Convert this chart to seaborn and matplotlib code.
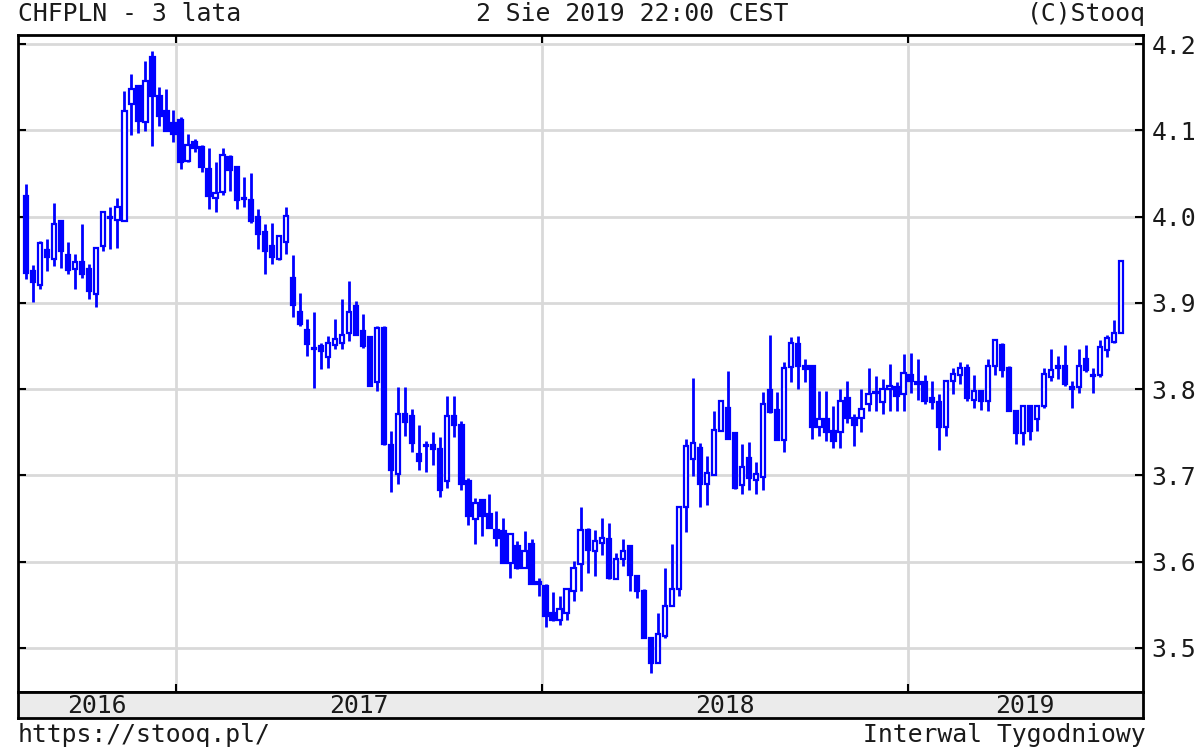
# Importações
import numpy as np
import pandas as pd
import matplotlib
matplotlib.use('Agg')
import matplotlib.pyplot as plt
import seaborn as sns

# Dados semanais CHFPLN, ago/2016 - ago/2019
abertura = [4.024, 3.937, 3.921, 3.961, 3.951, 3.995, 3.955, 3.939, 3.947, 3.939,
            3.910, 3.966, 3.999, 3.996, 3.995, 4.130, 4.151, 4.110, 4.185, 4.140,
            4.122, 4.108, 4.112, 4.065, 4.086, 4.081, 4.055, 4.021, 4.028, 4.069,
            4.057, 4.022, 4.019, 3.999, 3.982, 3.966, 3.951, 3.970, 3.929, 3.889,
            3.869, 3.848, 3.850, 3.837, 3.851, 3.854, 3.865, 3.896, 3.867, 3.860,
            3.808, 3.871, 3.735, 3.702, 3.771, 3.769, 3.725, 3.735, 3.735, 3.731,
            3.694, 3.769, 3.758, 3.693, 3.650, 3.671, 3.655, 3.637, 3.636, 3.599,
            3.618, 3.593, 3.620, 3.576, 3.572, 3.541, 3.533, 3.541, 3.566, 3.597,
            3.637, 3.612, 3.622, 3.626, 3.580, 3.603, 3.618, 3.583, 3.566, 3.512,
            3.483, 3.514, 3.549, 3.568, 3.664, 3.719, 3.732, 3.690, 3.701, 3.751,
            3.778, 3.749, 3.689, 3.720, 3.695, 3.698, 3.799, 3.776, 3.741, 3.826,
            3.852, 3.827, 3.827, 3.756, 3.765, 3.752, 3.750, 3.790, 3.767, 3.767,
            3.783, 3.797, 3.785, 3.800, 3.802, 3.794, 3.817, 3.808, 3.808, 3.790,
            3.785, 3.756, 3.810, 3.816, 3.824, 3.788, 3.798, 3.786, 3.827, 3.851,
            3.825, 3.775, 3.749, 3.780, 3.765, 3.780, 3.814, 3.824, 3.827, 3.802,
            3.802, 3.835, 3.816, 3.816, 3.845, 3.855, 3.865]
maxima = [4.038, 3.944, 3.972, 3.974, 4.016, 3.996, 3.970, 3.957, 3.992, 3.945,
          3.964, 4.007, 4.011, 4.022, 4.146, 4.165, 4.153, 4.180, 4.192, 4.150,
          4.148, 4.124, 4.115, 4.096, 4.090, 4.083, 4.079, 4.063, 4.079, 4.071,
          4.059, 4.046, 4.050, 4.009, 3.991, 3.993, 3.979, 4.011, 3.955, 3.912,
          3.881, 3.890, 3.854, 3.862, 3.881, 3.904, 3.925, 3.902, 3.887, 3.860,
          3.873, 3.873, 3.752, 3.802, 3.802, 3.777, 3.758, 3.740, 3.750, 3.744,
          3.792, 3.792, 3.763, 3.697, 3.674, 3.671, 3.678, 3.659, 3.651, 3.632,
          3.624, 3.636, 3.626, 3.581, 3.574, 3.565, 3.560, 3.570, 3.601, 3.664,
          3.639, 3.637, 3.651, 3.645, 3.610, 3.626, 3.618, 3.585, 3.568, 3.512,
          3.541, 3.593, 3.620, 3.664, 3.742, 3.813, 3.738, 3.722, 3.775, 3.788,
          3.821, 3.749, 3.737, 3.739, 3.716, 3.797, 3.863, 3.797, 3.832, 3.861,
          3.862, 3.835, 3.827, 3.798, 3.798, 3.781, 3.800, 3.810, 3.771, 3.800,
          3.825, 3.815, 3.812, 3.829, 3.808, 3.841, 3.842, 3.835, 3.817, 3.810,
          3.794, 3.810, 3.824, 3.831, 3.829, 3.816, 3.798, 3.835, 3.857, 3.853,
          3.827, 3.775, 3.780, 3.780, 3.780, 3.825, 3.847, 3.839, 3.851, 3.810,
          3.847, 3.851, 3.825, 3.857, 3.863, 3.880, 3.950]
minima = [3.928, 3.901, 3.916, 3.937, 3.943, 3.941, 3.933, 3.916, 3.929, 3.904,
          3.895, 3.960, 3.962, 3.964, 3.995, 4.095, 4.097, 4.099, 4.082, 4.105,
          4.099, 4.086, 4.055, 4.063, 4.075, 4.052, 4.009, 4.005, 4.025, 4.030,
          4.009, 4.011, 3.993, 3.962, 3.933, 3.945, 3.950, 3.957, 3.884, 3.873,
          3.838, 3.801, 3.823, 3.825, 3.846, 3.846, 3.856, 3.863, 3.848, 3.804,
          3.798, 3.735, 3.681, 3.690, 3.746, 3.727, 3.706, 3.704, 3.712, 3.675,
          3.685, 3.744, 3.683, 3.643, 3.620, 3.630, 3.639, 3.618, 3.599, 3.581,
          3.591, 3.593, 3.574, 3.560, 3.524, 3.531, 3.527, 3.533, 3.554, 3.566,
          3.587, 3.583, 3.608, 3.580, 3.580, 3.595, 3.566, 3.558, 3.512, 3.471,
          3.483, 3.512, 3.549, 3.560, 3.634, 3.699, 3.664, 3.666, 3.701, 3.751,
          3.742, 3.684, 3.679, 3.683, 3.679, 3.683, 3.772, 3.741, 3.727, 3.808,
          3.800, 3.808, 3.742, 3.746, 3.740, 3.732, 3.732, 3.761, 3.734, 3.750,
          3.775, 3.775, 3.771, 3.775, 3.775, 3.775, 3.796, 3.788, 3.783, 3.777,
          3.729, 3.746, 3.794, 3.806, 3.786, 3.778, 3.776, 3.775, 3.816, 3.814,
          3.775, 3.737, 3.735, 3.741, 3.751, 3.778, 3.810, 3.812, 3.804, 3.778,
          3.796, 3.820, 3.796, 3.814, 3.837, 3.853, 3.865]
fechamento = [3.935, 3.924, 3.969, 3.953, 3.991, 3.960, 3.938, 3.947, 3.933, 3.914,
              3.964, 4.005, 3.998, 4.011, 4.122, 4.148, 4.111, 4.157, 4.140, 4.117,
              4.099, 4.096, 4.063, 4.083, 4.080, 4.057, 4.024, 4.027, 4.071, 4.054,
              4.019, 4.020, 3.995, 3.980, 3.960, 3.953, 3.978, 4.001, 3.898, 3.875,
              3.852, 3.846, 3.844, 3.854, 3.858, 3.863, 3.890, 3.863, 3.850, 3.804,
              3.871, 3.737, 3.706, 3.771, 3.762, 3.738, 3.717, 3.734, 3.731, 3.683,
              3.769, 3.758, 3.690, 3.653, 3.668, 3.653, 3.639, 3.628, 3.599, 3.632,
              3.593, 3.612, 3.574, 3.574, 3.537, 3.533, 3.545, 3.568, 3.593, 3.637,
              3.614, 3.624, 3.628, 3.581, 3.603, 3.612, 3.585, 3.566, 3.512, 3.483,
              3.516, 3.549, 3.568, 3.664, 3.734, 3.738, 3.690, 3.703, 3.753, 3.786,
              3.742, 3.686, 3.710, 3.697, 3.702, 3.783, 3.774, 3.741, 3.824, 3.853,
              3.827, 3.823, 3.756, 3.765, 3.750, 3.740, 3.786, 3.767, 3.759, 3.777,
              3.794, 3.795, 3.800, 3.804, 3.792, 3.819, 3.810, 3.806, 3.786, 3.785,
              3.756, 3.810, 3.818, 3.825, 3.790, 3.798, 3.786, 3.827, 3.857, 3.822,
              3.775, 3.749, 3.780, 3.751, 3.780, 3.818, 3.822, 3.827, 3.806, 3.800,
              3.827, 3.822, 3.815, 3.849, 3.859, 3.865, 3.949]

anos = ['2016', '2017', '2018', '2019']
niveis = [3.5, 3.6, 3.7, 3.8, 3.9, 4.0, 4.1, 4.2]
rotulos_niveis = ['3.5', '3.6', '3.7', '3.8', '3.9', '4.0', '4.1', '4.2']

# Montando a DataFrame (semanas terminando na sexta-feira)
df = pd.DataFrame({'abertura': abertura, 'maxima': maxima,
                   'minima': minima, 'fechamento': fechamento})
df['data'] = pd.date_range('2016-08-05', periods=len(df), freq='W-FRI')
df['pos'] = np.arange(len(df))
df['alta'] = df['fechamento'] >= df['abertura']

# Posição das divisas entre anos (interpolada entre semanas)
fronteiras = []
for ano in anos[1:]:
    inicio = pd.Timestamp(f'{ano}-01-01')
    antes = df[df['data'] < inicio].iloc[-1]
    fronteiras.append(antes['pos'] + (inicio - antes['data']).days / 7)

xmin, xmax = -1.15, len(df) + 2.1
limites = [xmin] + fronteiras + [xmax]
centros_anos = [(a + b) / 2 for a, b in zip(limites[:-1], limites[1:])]

# Estilo
sns.set_theme(style='white')
plt.rcParams['font.family'] = ['DejaVu Sans Mono', 'DejaVu Sans']
cor_texto = '#1a1a1a'
azul = '#0000ff'
tam = 17.8

fig = plt.figure(figsize=(12, 7.5), dpi=100)
ax = fig.add_axes([18 / 1200, 1 - 692 / 750, 1125 / 1200, 657 / 750])
faixa = fig.add_axes([18 / 1200, 1 - 718 / 750, 1125 / 1200, 26 / 750])

# Pavios e corpos das velas
ax.vlines(df['pos'], df['minima'], df['maxima'], color=azul, linewidth=2, zorder=2)
base = df[['abertura', 'fechamento']].min(axis=1)
altura = (df['fechamento'] - df['abertura']).abs().clip(lower=0.0015)
cores = np.where(df['alta'], 'white', azul)
ax.bar(df['pos'], altura, bottom=base, width=0.62, color=cores,
       edgecolor=azul, linewidth=1.6, zorder=3)

# Eixos, grade e ticks
ax.set_xlim(xmin, xmax)
ax.set_ylim(3.449, 4.2105)
ax.set_yticks(niveis)
ax.set_yticklabels(rotulos_niveis)
ax.set_xticks(fronteiras)
ax.grid(True, color='#d9d9d9', linewidth=2)
ax.set_axisbelow(True)
ax.set_facecolor('white')
ax.tick_params(axis='y', direction='in', length=6, width=1.5, colors='black',
               left=True, right=True, labelleft=False, labelright=True,
               labelsize=tam, labelcolor=cor_texto, pad=6)
ax.tick_params(axis='x', direction='in', length=6, width=1.5, colors='black',
               top=True, bottom=True, labelbottom=False)
for s in ax.spines.values():
    s.set_color('black')
    s.set_linewidth(2)

# Faixa inferior com os anos
faixa.set_xlim(xmin, xmax)
faixa.set_ylim(0, 1)
faixa.set_facecolor('#ebebeb')
faixa.set_xticks([])
faixa.set_yticks([])
for s in faixa.spines.values():
    s.set_color('black')
    s.set_linewidth(2)
for ano, c in zip(anos, centros_anos):
    faixa.text(c, 0.45, ano, ha='center', va='center', fontsize=tam, color=cor_texto)

# Textos de cabeçalho e rodapé
fig.text(18 / 1200, 1 - 14 / 750, 'CHFPLN - 3 lata', ha='left', va='center',
         fontsize=tam, color=cor_texto)
fig.text(632 / 1200, 1 - 14 / 750, '2 Sie 2019 22:00 CEST', ha='center', va='center',
         fontsize=tam, color=cor_texto)
fig.text(1146 / 1200, 1 - 14 / 750, '(C)Stooq', ha='right', va='center',
         fontsize=tam, color=cor_texto)
fig.text(18 / 1200, 1 - 735 / 750, 'https://stooq.pl/', ha='left', va='center',
         fontsize=tam, color=cor_texto)
fig.text(1146 / 1200, 1 - 735 / 750, 'Interwal Tygodniowy', ha='right', va='center',
         fontsize=tam, color=cor_texto)

fig.savefig('out.png', dpi=100, facecolor='white')
